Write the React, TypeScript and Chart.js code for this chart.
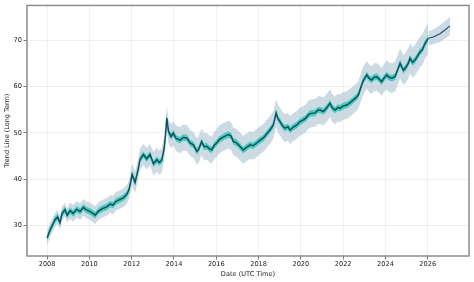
import React, { useEffect, useRef } from "react";
import { Chart, registerables } from "chart.js";

Chart.register(...registerables);

// Historical trend (decimal year, value)
const years = [
  2008.0, 2008.14, 2008.28, 2008.38, 2008.5, 2008.61, 2008.71, 2008.85, 2008.95, 2009.09,
  2009.23, 2009.4, 2009.56, 2009.72, 2009.84, 2010.03, 2010.17, 2010.27, 2010.43, 2010.6,
  2010.82, 2010.98, 2011.12, 2011.26, 2011.45, 2011.59, 2011.77, 2011.88, 2012.02, 2012.16,
  2012.3, 2012.39, 2012.55, 2012.71, 2012.87, 2013.03, 2013.19, 2013.3, 2013.42, 2013.53,
  2013.6, 2013.66, 2013.74, 2013.86, 2013.97, 2014.1, 2014.29, 2014.43, 2014.61, 2014.76,
  2014.92, 2015.08, 2015.15, 2015.31, 2015.42, 2015.55, 2015.66, 2015.79, 2015.9, 2016.02,
  2016.13, 2016.26, 2016.42, 2016.57, 2016.7, 2016.81, 2016.94, 2017.05, 2017.17, 2017.28,
  2017.41, 2017.6, 2017.74, 2017.91, 2018.07, 2018.23, 2018.35, 2018.54, 2018.7, 2018.83,
  2018.92, 2019.02, 2019.13, 2019.25, 2019.39, 2019.49, 2019.63, 2019.81, 2019.96, 2020.12,
  2020.25, 2020.35, 2020.48, 2020.67, 2020.81, 2020.91, 2021.06, 2021.19, 2021.38, 2021.48,
  2021.62, 2021.76, 2021.85, 2022.0, 2022.17, 2022.33, 2022.48, 2022.61, 2022.72, 2022.85,
  2022.96, 2023.12, 2023.22, 2023.35, 2023.46, 2023.59, 2023.7, 2023.82, 2023.93, 2024.06,
  2024.17, 2024.3, 2024.45, 2024.57, 2024.69, 2024.85, 2024.93, 2025.08, 2025.16, 2025.28,
  2025.4, 2025.52, 2025.64, 2025.75, 2025.87, 2026.03,
];
const values = [
  27.3, 29.0, 30.3, 31.3, 31.8, 30.6, 32.6, 33.4, 32.2, 33.2,
  32.6, 33.5, 33.0, 33.9, 33.4, 33.0, 32.6, 32.2, 33.1, 33.6,
  34.0, 34.6, 34.4, 35.2, 35.6, 35.9, 36.7, 37.8, 41.0, 39.3,
  42.0, 44.2, 45.3, 44.4, 45.3, 43.3, 44.2, 43.6, 44.0, 46.5,
  49.5, 53.2, 50.3, 49.2, 49.9, 48.8, 48.4, 49.0, 48.9, 47.8,
  47.4, 46.0, 46.3, 48.1, 47.0, 47.1, 46.6, 46.3, 47.3, 47.8,
  48.5, 48.9, 49.3, 49.6, 49.3, 48.1, 47.9, 47.4, 46.8, 46.3,
  46.8, 47.4, 47.2, 47.8, 48.4, 48.9, 49.6, 50.6, 51.7, 54.3,
  53.0, 52.4, 51.5, 51.0, 51.3, 50.6, 51.2, 51.7, 52.4, 52.8,
  53.2, 53.9, 54.2, 54.3, 54.9, 54.9, 54.6, 55.2, 56.4, 55.4,
  54.9, 55.5, 55.3, 55.8, 56.0, 56.5, 57.1, 57.6, 58.2, 60.0,
  61.4, 62.5, 61.8, 61.4, 62.0, 62.1, 61.6, 61.0, 61.8, 62.5,
  62.0, 61.8, 62.1, 63.5, 65.0, 63.5, 63.9, 65.0, 66.1, 65.2,
  65.7, 66.6, 67.5, 68.0, 69.3, 70.4,
];

// Forecast
const forecastYears = [2026.03, 2026.26, 2026.58, 2026.81, 2027.05];
const forecastValues = [70.4, 70.7, 71.4, 72.2, 73.1];
const forecastHalfWidth = [1.5, 1.6, 1.8, 1.9, 2.0];

// Outer (grey) uncertainty half-width per calendar year, inner (teal) half-width
const ciYearStart = [2008, 2009, 2010, 2011, 2012, 2013, 2014, 2015, 2016, 2017, 2018, 2019, 2020, 2021, 2022, 2023, 2024, 2025, 2026];
const ciHalfWidth = [1.5, 1.8, 1.9, 2.0, 2.3, 2.6, 2.8, 2.9, 3.0, 3.0, 3.0, 3.0, 3.0, 3.0, 3.0, 3.0, 3.2, 3.3, 3.3];
const innerHalfWidth = 0.7;

const xTicks = [2008, 2010, 2012, 2014, 2016, 2018, 2020, 2022, 2024, 2026];
const yTicks = [30, 40, 50, 60, 70];

const FONT = "'DejaVu Sans', sans-serif";

function halfWidthFor(year: number): number {
  let hw = ciHalfWidth[0];
  for (let i = 0; i < ciYearStart.length; i++) {
    if (year >= ciYearStart[i]) hw = ciHalfWidth[i];
  }
  return hw;
}

const framePlugin = {
  id: "frame",
  beforeDraw(chart: any) {
    const { ctx, width, height } = chart;
    ctx.save();
    ctx.fillStyle = "#ffffff";
    ctx.fillRect(0, 0, width, height);
    ctx.restore();
  },
  afterDraw(chart: any) {
    const { ctx, chartArea } = chart;
    ctx.save();
    ctx.strokeStyle = "#8c8c8c";
    ctx.lineWidth = 1.5;
    ctx.strokeRect(chartArea.left, chartArea.top, chartArea.right - chartArea.left, chartArea.bottom - chartArea.top);
    ctx.restore();
  },
};

export default function App() {
  const ref = useRef<HTMLCanvasElement | null>(null);

  useEffect(() => {
    if (!ref.current) return;
    const hist = years.map((x, i) => ({ x, y: values[i] }));
    const outerUp = years.map((x, i) => ({ x, y: values[i] + halfWidthFor(x) }));
    const outerLo = years.map((x, i) => ({ x, y: values[i] - halfWidthFor(x) }));
    const innerUp = years.map((x, i) => ({ x, y: values[i] + innerHalfWidth }));
    const innerLo = years.map((x, i) => ({ x, y: values[i] - innerHalfWidth }));
    const fc = forecastYears.map((x, i) => ({ x, y: forecastValues[i] }));
    const fcUp = forecastYears.map((x, i) => ({ x, y: forecastValues[i] + forecastHalfWidth[i] }));
    const fcLo = forecastYears.map((x, i) => ({ x, y: forecastValues[i] - forecastHalfWidth[i] }));

    const grey = "rgba(184,204,218,0.72)";
    const teal = "rgba(52,200,180,0.85)";
    const band = (data: any, fill: any, color: string, order: number) => ({
      data,
      fill,
      backgroundColor: color,
      borderWidth: 0,
      pointRadius: 0,
      tension: 0,
      order,
    });

    const chart = new Chart(ref.current, {
      type: "line",
      data: {
        datasets: [
          band(outerUp, "+1", grey, 5),
          band(outerLo, false, grey, 5),
          band(fcUp, "+1", grey, 5),
          band(fcLo, false, grey, 5),
          band(innerUp, "+1", teal, 3),
          band(innerLo, false, teal, 3),
          {
            data: hist,
            borderColor: "#0e5262",
            borderWidth: 1.5,
            pointRadius: 0,
            fill: false,
            order: 1,
          },
          {
            data: fc,
            borderColor: "#2b4868",
            borderWidth: 1.1,
            pointRadius: 0,
            fill: false,
            order: 1,
          },
        ],
      },
      options: {
        animation: false,
        responsive: false,
        devicePixelRatio: 1,
        events: [],
        layout: { padding: { top: 5, right: 5, left: 0, bottom: 0 } },
        plugins: { legend: { display: false }, tooltip: { enabled: false } },
        scales: {
          x: {
            type: "linear",
            min: 2007.05,
            max: 2027.95,
            afterBuildTicks: (s: any) => {
              s.ticks = xTicks.map((v) => ({ value: v }));
            },
            afterFit: (s: any) => {
              s.height = 26;
            },
            ticks: {
              callback: (v: any) => String(v),
              font: { family: FONT, size: 6.6 },
              color: "#222",
              padding: 1,
              maxRotation: 0,
              autoSkip: false,
            },
            grid: {
              color: "rgba(0,0,0,0.08)",
              tickColor: "#555",
              tickLength: 3.5,
              lineWidth: 0.8,
            },
            border: { display: false },
            title: {
              display: true,
              text: "Date (UTC Time)",
              font: { family: FONT, size: 6.6 },
              color: "#222",
              padding: { top: 0, bottom: 4 },
            },
          },
          y: {
            type: "linear",
            min: 23.4,
            max: 77.5,
            afterBuildTicks: (s: any) => {
              s.ticks = yTicks.map((v) => ({ value: v }));
            },
            afterFit: (s: any) => {
              s.width = 27;
            },
            ticks: {
              callback: (v: any) => String(v),
              font: { family: FONT, size: 6.6 },
              color: "#222",
              padding: 1.5,
            },
            grid: {
              color: "rgba(0,0,0,0.08)",
              tickColor: "#555",
              tickLength: 3.5,
              lineWidth: 0.8,
            },
            border: { display: false },
            title: {
              display: true,
              text: "Trend Line (Long Term)",
              font: { family: FONT, size: 6.5 },
              color: "#222",
              padding: { top: 3, bottom: 0 },
            },
          },
        },
      },
      plugins: [framePlugin],
    } as any);
    return () => chart.destroy();
  }, []);

  return (
    <div style={{ position: "absolute", left: 0, top: 0, width: 474, height: 282 }}>
      <canvas ref={ref} width={474} height={282} />
    </div>
  );
}
